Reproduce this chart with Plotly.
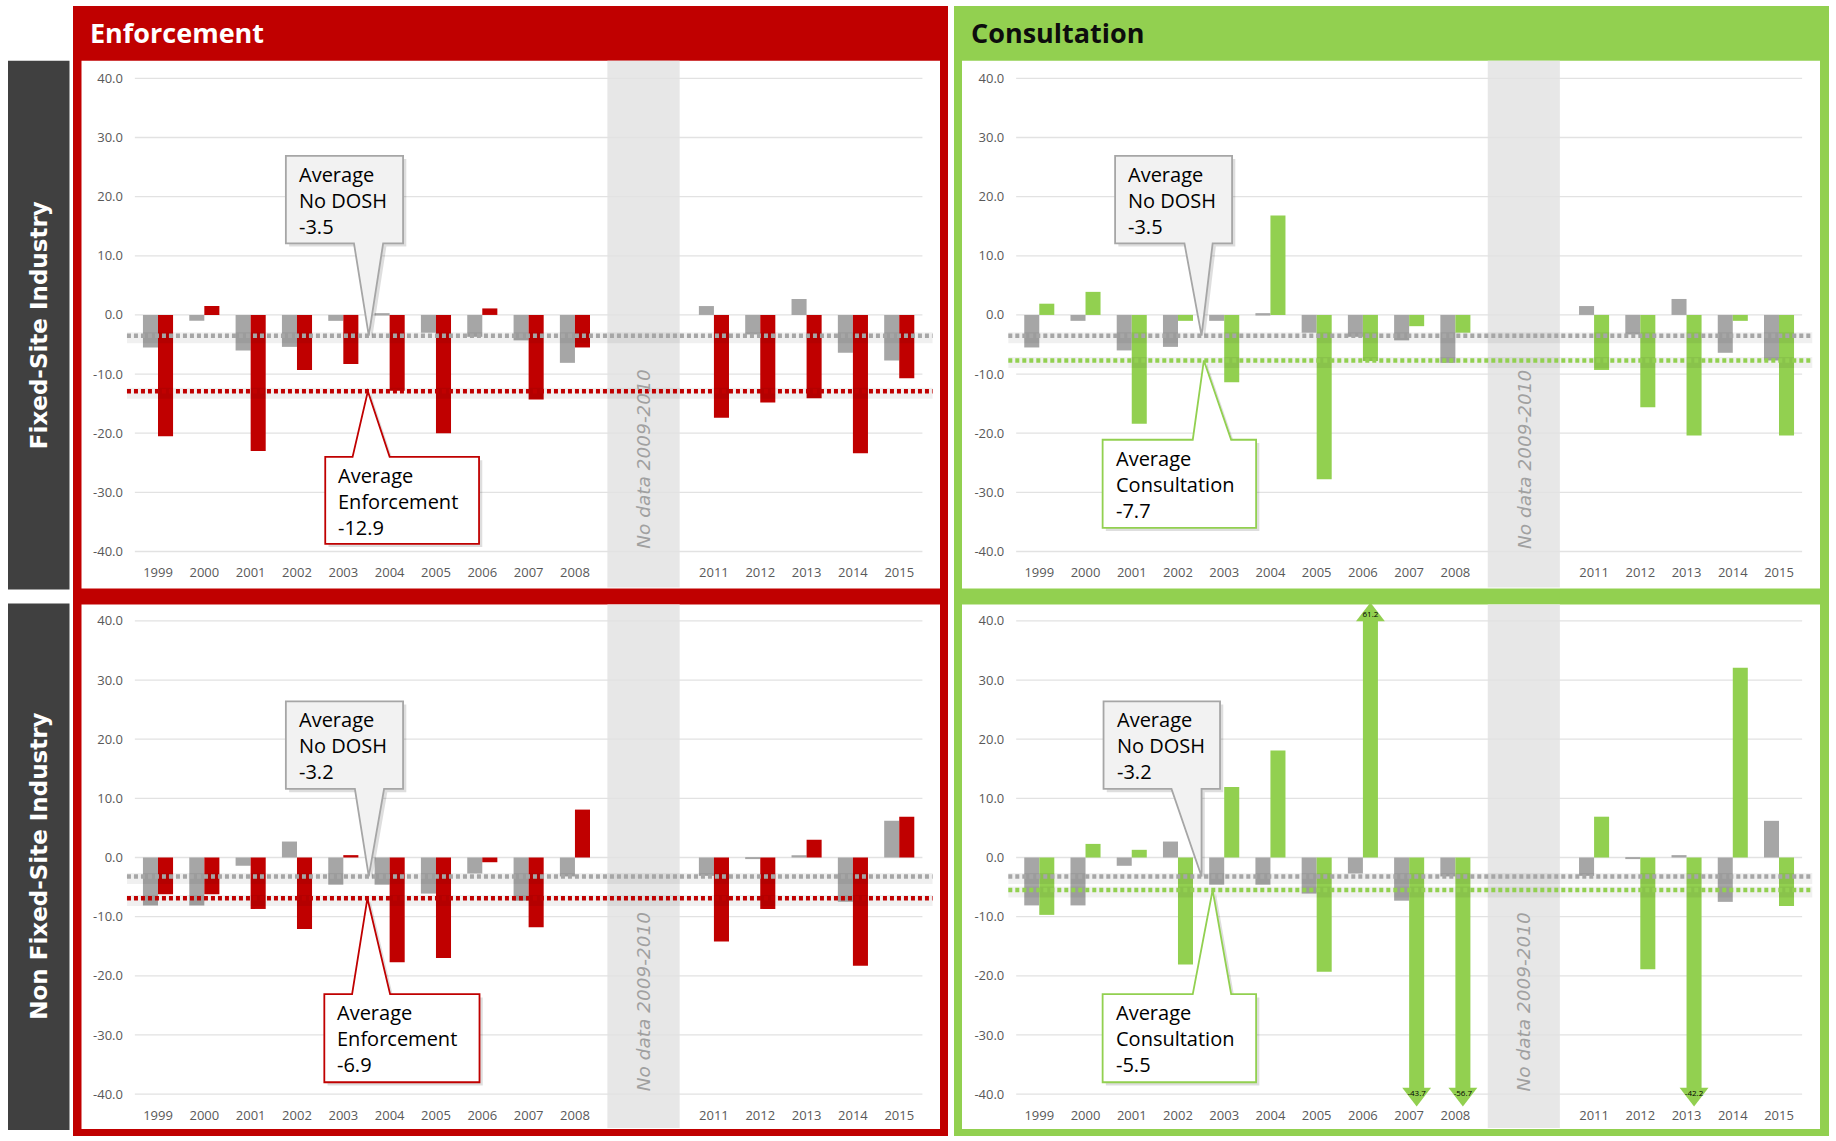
import plotly.graph_objects as go

# ---------------- data ----------------
years = [1999, 2000, 2001, 2002, 2003, 2004, 2005, 2006, 2007, 2008,
         2011, 2012, 2013, 2014, 2015]
year_labels = [str(y) for y in years]

y_ticks = [-40, -30, -20, -10, 0, 10, 20, 30, 40]
y_tick_labels = [f"{v:.1f}" for v in y_ticks]

# Fixed-Site Industry
fixed_no_dosh = [-5.5, -1.0, -6.0, -5.4, -1.0, 0.3, -3.0, -3.7, -4.3, -8.1,
                 1.5, -3.3, 2.7, -6.4, -7.7]
fixed_enforcement = [-20.5, 1.5, -23.0, -9.3, -8.3, -12.8, -20.0, 1.1, -14.3, -5.5,
                     -17.4, -14.8, -14.1, -23.4, -10.7]
fixed_consultation = [1.9, 3.9, -18.4, -1.0, -11.4, 16.8, -27.8, -7.8, -1.9, -3.0,
                      -9.3, -15.6, -20.4, -1.0, -20.4]

# Non Fixed-Site Industry
nonfixed_no_dosh = [-8.1, -8.1, -1.4, 2.7, -4.6, -4.6, -6.1, -2.7, -7.3, -3.2,
                    -3.1, -0.2, 0.4, -7.5, 6.2]
nonfixed_enforcement = [-6.2, -6.2, -8.7, -12.1, 0.4, -17.7, -17.0, -0.8, -11.8, 8.1,
                        -14.2, -8.7, 3.0, -18.3, 6.9]
nonfixed_consultation = [-9.7, 2.3, 1.3, -18.1, 11.9, 18.1, -19.3, 61.2, -43.7, -56.7,
                         6.9, -18.9, -42.2, 32.1, -8.2]

avg_fixed_no_dosh = -3.5
avg_fixed_enforcement = -12.9
avg_fixed_consultation = -7.7
avg_nonfixed_no_dosh = -3.2
avg_nonfixed_enforcement = -6.9
avg_nonfixed_consultation = -5.5

gap_years = (2009, 2010)
gap_label = "No data 2009-2010"
row_labels = ["Fixed-Site Industry", "Non Fixed-Site Industry"]
col_labels = ["Enforcement", "Consultation"]

# ---------------- style / layout ----------------
W, H = 1836, 1141
GRAY = "#a6a6a6"
RED = "#c00000"
GREEN = "#92d050"
DARK = "#404040"
TICK_FONT = dict(family="Open Sans", size=13, color="#595959")
CALLOUT_FONT = dict(family="Open Sans", size=20, color="#000000")
BARGAP = 0.35
CLIP_HI, CLIP_LO = 40, -39
X_RANGE = [1998.33, 2015.72]
Y_RANGE = [-41, 42]


def fx(px):
    return px / W


def fy(px):
    return 1 - px / H


panels = [
    dict(sfx="", col=0, row=0, xd=(126.96, 932.6), yd=(66.7, 558.9),
         base=fixed_no_dosh, prog=fixed_enforcement,
         avg_base=avg_fixed_no_dosh, avg_prog=avg_fixed_enforcement,
         color=RED, prog_name="Enforcement",
         gbox=(2001.76, 2004.29, 12.1, 26.9), gbase=(2003.23, 2003.86), gtip=2003.55,
         pbox=(2002.61, 2005.93, -38.7, -24.0), pbase=(2003.20, 2004.0), ptip=2003.53),
    dict(sfx="2", col=1, row=0, xd=(1008.3, 1812.3), yd=(66.7, 558.9),
         base=fixed_no_dosh, prog=fixed_consultation,
         avg_base=avg_fixed_no_dosh, avg_prog=avg_fixed_consultation,
         color=GREEN, prog_name="Consultation",
         gbox=(2000.64, 2003.17, 12.1, 26.9), gbase=(2002.14, 2002.75), gtip=2002.51,
         pbox=(2000.37, 2003.69, -36.0, -21.1), pbase=(2002.32, 2003.15), ptip=2002.56),
    dict(sfx="3", col=0, row=1, xd=(126.96, 932.6), yd=(610.7, 1102.9),
         base=nonfixed_no_dosh, prog=nonfixed_enforcement,
         avg_base=avg_nonfixed_no_dosh, avg_prog=avg_nonfixed_enforcement,
         color=RED, prog_name="Enforcement",
         gbox=(2001.76, 2004.29, 11.6, 26.4), gbase=(2003.25, 2003.88), gtip=2003.55,
         pbox=(2002.59, 2005.94, -38.0, -23.1), pbase=(2003.19, 2004.01), ptip=2003.52),
    dict(sfx="4", col=1, row=1, xd=(1008.3, 1812.3), yd=(610.7, 1102.9),
         base=nonfixed_no_dosh, prog=nonfixed_consultation,
         avg_base=avg_nonfixed_no_dosh, avg_prog=avg_nonfixed_consultation,
         color=GREEN, prog_name="Consultation",
         gbox=(2000.39, 2002.91, 11.6, 26.4), gbase=(2001.86, 2002.51), gtip=2002.51,
         pbox=(2000.37, 2003.69, -38.0, -23.1), pbase=(2002.32, 2003.15), ptip=2002.75),
]

white_rows = [(61, 590), (606, 1132)]
frame_cols = [dict(x=(73, 948), inner=(81.5, 940), color=RED, text_color="#ffffff", tx=88),
              dict(x=(954, 1829), inner=(962, 1820), color=GREEN, text_color="#0d0d0d", tx=969)]


def callout_path(box, base, tip, pointer_down, dx=0.0, dy=0.0):
    x0, x1, y0, y1 = box
    bx0, bx1 = base
    tx, ty = tip
    if pointer_down:
        pts = [(x0, y1), (x1, y1), (x1, y0), (bx1, y0), (tx, ty), (bx0, y0), (x0, y0)]
    else:
        pts = [(x0, y0), (x0, y1), (bx0, y1), (tx, ty), (bx1, y1), (x1, y1), (x1, y0)]
    return "M " + " L ".join(f"{x + dx:.4f},{y + dy:.4f}" for x, y in pts) + " Z"


fig = go.Figure()
shapes = []
annotations = []

# background frames (paper coordinates)
for fc in frame_cols:
    shapes.append(dict(type="rect", xref="paper", yref="paper", layer="below",
                       x0=fx(fc["x"][0]), x1=fx(fc["x"][1]), y0=fy(1139), y1=fy(6),
                       fillcolor=fc["color"], line=dict(width=0)))
    for (t, b) in white_rows:
        shapes.append(dict(type="rect", xref="paper", yref="paper", layer="below",
                           x0=fx(fc["inner"][0]), x1=fx(fc["inner"][1]), y0=fy(b), y1=fy(t),
                           fillcolor="#ffffff", line=dict(width=0)))
for (t, b) in [(61, 591), (605, 1133)]:
    shapes.append(dict(type="rect", xref="paper", yref="paper", layer="below",
                       x0=fx(8), x1=fx(69.5), y0=fy(b), y1=fy(t),
                       fillcolor=DARK, line=dict(width=0)))

# headers
for fc, lab in zip(frame_cols, col_labels):
    annotations.append(dict(xref="paper", yref="paper", x=fx(fc["tx"]), y=fy(33),
                            xanchor="left", yanchor="middle", showarrow=False,
                            text=f"<b>{lab}</b>",
                            font=dict(family="Open Sans", size=27, color=fc["text_color"])))
# row labels
for (t, b), lab in zip([(61, 591), (605, 1133)], row_labels):
    annotations.append(dict(xref="paper", yref="paper", x=fx(39), y=fy((t + b) / 2),
                            xanchor="center", yanchor="middle", showarrow=False,
                            textangle=-90, text=f"<b>{lab}</b>",
                            font=dict(family="DejaVu Sans", size=23, color="#ffffff")))

layout_axes = {}
for p in panels:
    s = p["sfx"]
    xa, ya = "x" + s, "y" + s
    t, b = white_rows[p["row"]]

    # gap band
    shapes.append(dict(type="rect", xref=xa, yref="paper", layer="below",
                       x0=gap_years[0] - 0.30, x1=gap_years[1] + 0.26,
                       y0=fy(b - 1), y1=fy(t),
                       fillcolor="#e7e7e7", line=dict(width=0)))
    # gridlines
    for v in y_ticks:
        shapes.append(dict(type="line", xref=xa, yref=ya, layer="below",
                           x0=years[0] - 0.5, x1=years[-1] + 0.5, y0=v, y1=v,
                           line=dict(color="#e2e2e2", width=1.3)))

    annotations.append(dict(xref=xa, yref=ya, x=(gap_years[0] + gap_years[1]) / 2 - 0.02,
                            y=-24.4, showarrow=False, textangle=-90,
                            text=f"<i>{gap_label}</i>",
                            font=dict(family="DejaVu Sans", size=18.5, color="#a0a0a0")))

    fig.add_trace(go.Bar(x=years, y=p["base"], name="No DOSH", marker_color=GRAY,
                         marker_line_width=0, xaxis=xa, yaxis=ya, showlegend=False))
    shown = [max(min(v, CLIP_HI), CLIP_LO) for v in p["prog"]]
    fig.add_trace(go.Bar(x=years, y=shown, name=p["prog_name"], marker_color=p["color"],
                         marker_line_width=0, xaxis=xa, yaxis=ya, showlegend=False,
                         customdata=p["prog"], hovertemplate="%{x}: %{customdata}<extra></extra>"))

    # overflow arrows for values beyond the axis
    off = (1 - BARGAP) / 4
    for v, yr in zip(p["prog"], years):
        if v > CLIP_HI or v < CLIP_LO:
            up = v > CLIP_HI
            fig.add_trace(go.Scatter(
                x=[yr + off], y=[CLIP_HI + 1.0 if up else CLIP_LO - 1.0],
                mode="markers+text", text=[f"{v:.1f}"], textposition="middle center",
                textfont=dict(family="Open Sans", size=8, color="#000000"),
                marker=dict(symbol="triangle-up" if up else "triangle-down", size=25,
                            color=p["color"], line=dict(width=0)),
                cliponaxis=False, xaxis=xa, yaxis=ya, showlegend=False, hoverinfo="skip"))

    # average lines
    for avg, col in [(p["avg_base"], GRAY), (p["avg_prog"], p["color"])]:
        shapes.append(dict(type="line", xref=xa + " domain", yref=ya, layer="above",
                           x0=0, x1=1, y0=avg - 0.35, y1=avg - 0.35,
                           line=dict(color="rgba(0,0,0,0.06)", width=11)))
        shapes.append(dict(type="line", xref=xa + " domain", yref=ya, layer="above",
                           x0=0, x1=1, y0=avg, y1=avg,
                           line=dict(color=col, width=4.5, dash="4px,3px")))

    # callouts
    callouts = [
        (p["gbox"], p["gbase"], (p["gtip"], p["avg_base"]), True, "#f2f2f2", GRAY,
         ["Average", "No DOSH", f"{p['avg_base']:.1f}"]),
        (p["pbox"], p["pbase"], (p["ptip"], p["avg_prog"]), False, "#ffffff", p["color"],
         ["Average", p["prog_name"], f"{p['avg_prog']:.1f}"]),
    ]
    for box, base, tip, down, fill, lc, lines in callouts:
        shapes.append(dict(type="path", xref=xa, yref=ya, layer="above",
                           path=callout_path(box, base, tip, down, dx=0.07, dy=-0.55),
                           fillcolor="rgba(0,0,0,0.13)", line=dict(width=0)))
        shapes.append(dict(type="path", xref=xa, yref=ya, layer="above",
                           path=callout_path(box, base, tip, down),
                           fillcolor=fill, line=dict(color=lc, width=1.8)))
        annotations.append(dict(xref=xa, yref=ya, x=box[0], y=box[3], xanchor="left",
                                yanchor="top", xshift=11, yshift=-3, align="left",
                                showarrow=False, text="<br>".join(lines), font=CALLOUT_FONT))

    layout_axes["xaxis" + s] = dict(domain=[fx(p["xd"][0]), fx(p["xd"][1])], range=X_RANGE,
                                    anchor=ya, tickvals=years, ticktext=year_labels,
                                    showgrid=False, zeroline=False, showline=False, ticks="",
                                    tickfont=TICK_FONT, fixedrange=True, ticklabelstandoff=6)
    layout_axes["yaxis" + s] = dict(domain=[fy(p["yd"][1]), fy(p["yd"][0])], range=Y_RANGE,
                                    anchor=xa, tickvals=y_ticks, ticktext=y_tick_labels,
                                    showgrid=False, zeroline=False, showline=False, ticks="",
                                    tickfont=TICK_FONT, fixedrange=True, ticklabelstandoff=3)

fig.update_layout(
    width=W, height=H, margin=dict(l=0, r=0, t=0, b=0),
    paper_bgcolor="#ffffff", plot_bgcolor="rgba(0,0,0,0)",
    barmode="group", bargap=BARGAP, bargroupgap=0,
    shapes=shapes, annotations=annotations, showlegend=False,
    **layout_axes,
)

fig.write_html("out.html")
